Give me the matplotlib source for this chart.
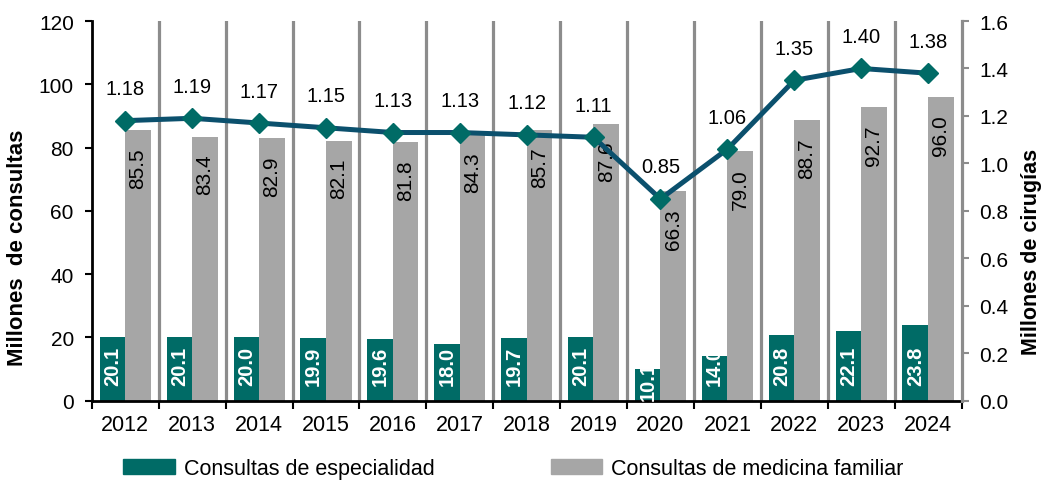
"""
Consultas de especialidad / medicina familiar (barras) y cirugías (línea), 2012-2024.
"""

import matplotlib

matplotlib.use("Agg")
import matplotlib.pyplot as plt
from matplotlib.patches import Patch

plt.rcParams["font.family"] = ["Liberation Sans", "DejaVu Sans"]

years = ["2012", "2013", "2014", "2015", "2016", "2017", "2018",
         "2019", "2020", "2021", "2022", "2023", "2024"]
especialidad = [20.1, 20.1, 20.0, 19.9, 19.6, 18.0, 19.7, 20.1, 10.1, 14.0, 20.8, 22.1, 23.8]
medicina_familiar = [85.5, 83.4, 82.9, 82.1, 81.8, 84.3, 85.7, 87.6, 66.3, 79.0, 88.7, 92.7, 96.0]
cirugias = [1.18, 1.19, 1.17, 1.15, 1.13, 1.13, 1.12, 1.11, 0.85, 1.06, 1.35, 1.40, 1.38]

TEAL = "#006b66"
GRAY = "#a6a6a6"
SEP = "#8c8c8c"
LINE = "#0b506d"

fig = plt.figure(figsize=(10.44, 4.85), dpi=100)
ax = fig.add_axes([0.088, 0.172, 0.833, 0.7826])
ax2 = ax.twinx()

x = list(range(len(years)))
w = 0.385
off = 0.19

# separadores verticales entre años
for b in range(len(years) - 1):
    ax.axvline(b + 0.5, color=SEP, lw=2.3, zorder=1)

bars_e = ax.bar([i - off for i in x], especialidad, w, color=TEAL, zorder=2)
bars_m = ax.bar([i + off for i in x], medicina_familiar, w, color=GRAY, zorder=2)

# etiquetas dentro de las barras (recortadas si no caben)
label_len = 13.0
for bar, val in zip(bars_e, especialidad):
    y0 = 5.0 if val - label_len > 0 else 0.3
    t = ax.text(bar.get_x() + bar.get_width() / 2, y0, f"{val:.1f}", rotation=90,
                ha="center", va="bottom", color="white", fontweight="bold",
                fontsize=14.5, zorder=3)
    t.set_clip_path(bar)

for bar, val in zip(bars_m, medicina_familiar):
    ax.text(bar.get_x() + bar.get_width() / 2, val - 5.4, f"{val:.1f}", rotation=90,
            ha="center", va="top", color="black", fontsize=15, zorder=3)

ax.set_xlim(-0.5, len(years) - 0.5)
ax.set_ylim(0, 120)
ax.set_yticks(range(0, 121, 20))
ax.set_xticks([i + 0.5 for i in range(-1, len(years))])
ax.set_xticklabels([])
ax.set_xticks(x, minor=True)
ax.set_xticklabels(years, minor=True)
ax.tick_params(axis="x", which="major", direction="out", length=6, width=1.5, color="black")
ax.tick_params(axis="x", which="minor", length=0, pad=10, labelsize=15.5)
ax.tick_params(axis="y", direction="out", length=5, width=1.5, labelsize=15, pad=8)
ax.spines["top"].set_visible(False)
ax.spines["right"].set_visible(False)
ax.spines["left"].set_linewidth(2)
ax.spines["bottom"].set_linewidth(2)

# línea de cirugías
ax2.plot(x, cirugias, color=LINE, lw=3.6, marker="D", markersize=10,
         markerfacecolor=TEAL, markeredgecolor=TEAL, zorder=5)
for i, v in zip(x, cirugias):
    ax2.annotate(f"{v:.2f}", (i, v), xytext=(0, 23), textcoords="offset points",
                 ha="center", va="center", fontsize=14.5)
ax2.set_ylim(0, 1.6)
ax2.set_yticks([i * 0.2 for i in range(9)])
ax2.set_yticklabels([f"{i * 0.2:.1f}" for i in range(9)])
ax2.tick_params(axis="y", direction="out", length=5, width=1.5, color=SEP, labelsize=15, pad=8)
for s in ["top", "left", "bottom"]:
    ax2.spines[s].set_visible(False)
ax2.spines["right"].set_color(SEP)
ax2.spines["right"].set_linewidth(2.3)

# títulos de los ejes
fig.text(18 / 1044, 1 - 248 / 485, "Millones  de consultas", rotation=90,
         ha="center", va="center", fontsize=16, fontweight="bold")
fig.text(1031.5 / 1044, 1 - 251.5 / 485, "Millones de cirugías", rotation=90,
         ha="center", va="center", fontsize=15.5, fontweight="bold")

# la línea va encima de las barras
ax.set_zorder(0)
ax2.set_zorder(1)
ax2.patch.set_visible(False)

handles = [Patch(color=TEAL, label="Consultas de especialidad"),
           Patch(color=GRAY, label="Consultas de medicina familiar")]
fig.legend(handles=handles, loc="center left", bbox_to_anchor=(0.11, 0.032), ncol=2,
           frameon=False, fontsize=15.5, handlelength=2.4, handleheight=0.75,
           handletextpad=0.4, columnspacing=5.4, borderaxespad=0)

fig.savefig("out.png", dpi=100)
plt.close(fig)
